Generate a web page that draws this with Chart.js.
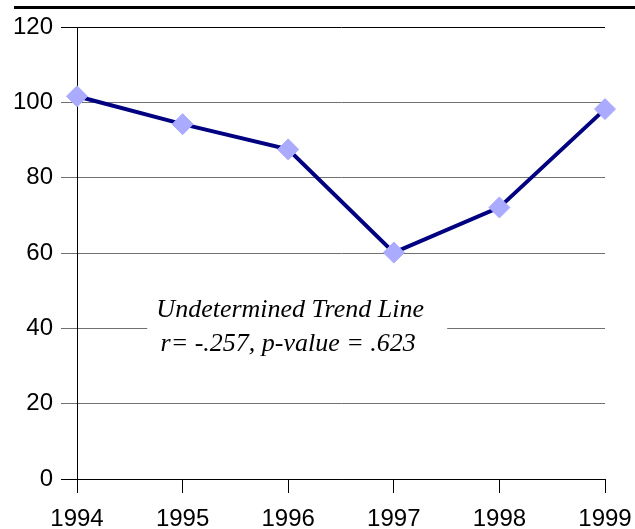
<!DOCTYPE html>
<html lang="en">
<head>
  <meta charset="UTF-8" />
  <title>Undetermined Trend Line</title>
  <script src="https://cdn.jsdelivr.net/npm/chart.js"></script>
  <style>
    body {
      margin: 0;
      background: white;
    }
    .wrap {
      position: relative;
      width: 635px;
      height: 529px;
    }
    .top-rule {
      position: absolute;
      left: 14px;
      right: 0;
      top: 6px;
      height: 3px;
      background: black;
    }
  </style>
</head>
<body>
  <div class="wrap">
    <div class="top-rule"></div>
    <canvas id="trendChart" width="635" height="529"></canvas>
  </div>

  <script>
    const years = ['1994', '1995', '1996', '1997', '1998', '1999'];
    const values = [101.6, 94.2, 87.5, 60.1, 72.1, 98.2];
    const yTicks = [0, 20, 40, 60, 80, 100, 120];
    const noteLines = ['Undetermined Trend Line', 'r= -.257, p-value = .623'];

    // white box with the italic note, sits on top of the 40 gridline
    const notePlugin = {
      id: 'note',
      afterDatasetsDraw(chart) {
        const { ctx, scales } = chart;
        const cx = scales.x.getPixelForValue(2) + 2;
        const y1 = scales.y.getPixelForValue(44.7);
        const y2 = scales.y.getPixelForValue(35.9);
        ctx.save();
        ctx.fillStyle = 'white';
        ctx.fillRect(cx - 143, y1 - 14, 300, y2 - y1 + 30);
        ctx.fillStyle = 'black';
        ctx.font = 'italic 26px "Liberation Serif"';
        ctx.textAlign = 'center';
        ctx.textBaseline = 'middle';
        ctx.fillText(noteLines[0], cx, y1);
        ctx.fillText(noteLines[1], cx - 2, y2);
        ctx.restore();
      }
    };

    const ctx = document.getElementById('trendChart').getContext('2d');

    new Chart(ctx, {
      type: 'line',
      data: {
        labels: years,
        datasets: [{
          data: values,
          borderColor: '#000080',
          borderWidth: 4,
          pointStyle: 'rectRot',
          pointRadius: 10.5,
          pointBackgroundColor: '#aaaaff',
          pointBorderColor: '#aaaaff',
          pointBorderWidth: 1,
          fill: false,
          tension: 0,
          clip: false
        }]
      },
      options: {
        responsive: false,
        animation: false,
        layout: { padding: { top: 27, left: 0, right: 30, bottom: 0 } },
        plugins: {
          legend: { display: false },
          tooltip: { enabled: false }
        },
        scales: {
          x: {
            offset: false,
            afterFit(scale) {
              scale.height = 50;
              scale.paddingLeft = 0;
              scale.paddingRight = 0;
            },
            grid: {
              drawOnChartArea: false,
              drawTicks: true,
              tickLength: 14,
              color: 'black'
            },
            border: { color: 'black', width: 1 },
            ticks: {
              color: 'black',
              font: { family: '"Liberation Sans", Arial, sans-serif', size: 24, lineHeight: 1 },
              maxRotation: 0,
              autoSkip: false,
              padding: 14
            }
          },
          y: {
            min: 0,
            max: 120,
            afterBuildTicks(axis) {
              axis.ticks = yTicks.map(v => ({ value: v }));
            },
            afterFit(scale) {
              scale.width = 77;
              scale.paddingTop = 0;
              scale.paddingBottom = 0;
            },
            grid: {
              tickLength: 16,
              color: c => (c.tick && (c.tick.value === 0 || c.tick.value === 120)) ? 'black' : '#707070'
            },
            border: { color: 'black', width: 1 },
            ticks: {
              color: 'black',
              font: { family: '"Liberation Sans", Arial, sans-serif', size: 24 },
              padding: 8
            }
          }
        }
      },
      plugins: [notePlugin]
    });
  </script>
</body>
</html>
